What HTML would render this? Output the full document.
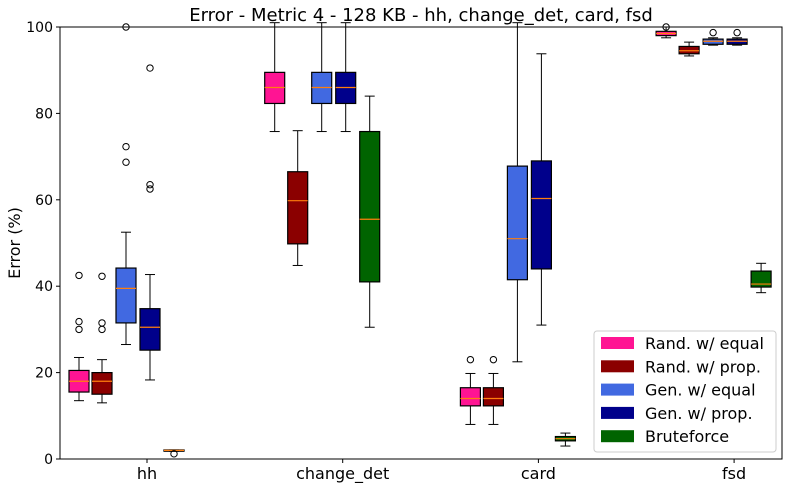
<!DOCTYPE html>
<html><head><meta charset="utf-8"><style>
body{margin:0;background:#fff;font-family:"DejaVu Sans","Liberation Sans",sans-serif}
svg text{font-family:"DejaVu Sans","Liberation Sans",sans-serif}
</style></head><body>
<svg id="chart" width="786" height="489" xmlns="http://www.w3.org/2000/svg">
<text x="421" y="21" font-size="18" text-anchor="middle">Error - Metric 4 - 128 KB - hh, change_det, card, fsd</text>
<text x="20" y="243" font-size="16" text-anchor="middle" transform="rotate(-90 20 243)">Error (%)</text>
<g id="axes"></g><g id="boxes"></g>
<rect x="60" y="27" width="722" height="432" fill="none" stroke="#000" stroke-width="1"/>
<g id="legend"></g>
</svg>
<script>
const categories=["hh","change_det","card","fsd"];
const seriesNames=["Rand. w/ equal","Rand. w/ prop.","Gen. w/ equal","Gen. w/ prop.","Bruteforce"];
const seriesColors=["#ff1493","#8b0000","#4169e1","#00008b","#006400"];
const yTicks=[0,20,40,60,80,100];
// each stat: [whiskLo, q1, median, q3, whiskHi]
const randEqual=[[13.5,15.5,18,20.5,23.5],[75.8,82.3,86,89.5,101],[8,12.3,14,16.5,19.8],[97.5,98,98.5,99,100]];
const randProp=[[13,15,18,20,23],[44.8,49.8,59.8,66.5,76],[8,12.3,14,16.5,19.8],[93.3,93.8,94.5,95.5,96.5]];
const genEqual=[[26.5,31.5,39.5,44.2,52.5],[75.8,82.3,86,89.5,101],[22.5,41.5,51,67.8,101],[95.8,96,96.7,97.2,97.5]];
const genProp=[[18.3,25.2,30.5,34.8,42.7],[75.8,82.3,86,89.5,101],[31,44,60.3,69,93.8],[95.8,96,96.7,97.2,97.5]];
const brute=[[1.8,1.8,2,2.1,2.1],[30.5,41,55.5,75.8,84],[3,4.2,4.7,5.2,6],[38.5,39.8,40.5,43.5,45.3]];
const outRandEqual=[[30,31.8,42.5],[],[23],[100]];
const outRandProp=[[30,31.5,42.3],[],[23],[]];
const outGenEqual=[[68.7,72.3,100],[],[],[98.7]];
const outGenProp=[[62.5,63.5,90.5],[],[],[98.7]];
const outBrute=[[1.2],[],[],[]];
const allStats=[randEqual,randProp,genEqual,genProp,brute];
const allOut=[outRandEqual,outRandProp,outGenEqual,outGenProp,outBrute];
const NS="http://www.w3.org/2000/svg";
const X0=60,X1=782,Y0=459,Y1=27;
const yS=v=>Y0-(v/100)*(Y0-Y1);
const xCat=i=>147+i*195.7;
const offs=[-68,-45,-21,3,27];
function mk(t,a,p){const e=document.createElementNS(NS,t);for(const k in a)e.setAttribute(k,a[k]);p.appendChild(e);return e;}
const ax=document.getElementById('axes'),bx=document.getElementById('boxes'),lg=document.getElementById('legend');
yTicks.forEach(v=>{
 const l=mk('line',{x1:X0-4,x2:X0,y1:yS(v),y2:yS(v),stroke:'#000'},ax);
 
 
 const t=mk('text',{x:X0-7,y:yS(v)+5,'font-size':14,'text-anchor':'end'},ax);t.textContent=v;
 
 
});
categories.forEach((c,i)=>{
 const l=mk('line',{x1:xCat(i),x2:xCat(i),y1:Y0,y2:Y0+4,stroke:'#000'},ax);
 
 
 const t=mk('text',{x:xCat(i),y:Y0+20,'font-size':16,'text-anchor':'middle'},ax);t.textContent=c;
 
 
});
const cp=mk('clipPath',{id:'clip'},bx);mk('rect',{x:X0,y:Y1-8,width:X1-X0,height:Y0-Y1+8},cp);
const g=mk('g',{'clip-path':'url(#clip)'},bx);
allStats.forEach((ser,s)=>{
 ser.forEach((st,i)=>{
  const cx=xCat(i)+offs[s],w=20;
  const gg=mk('g',{},g);
  
  
  mk('line',{x1:cx,x2:cx,y1:yS(st[0]),y2:yS(st[1]),stroke:'#000'},gg);
  mk('line',{x1:cx,x2:cx,y1:yS(st[3]),y2:yS(st[4]),stroke:'#000'},gg);
  mk('line',{x1:cx-5,x2:cx+5,y1:yS(st[0]),y2:yS(st[0]),stroke:'#000'},gg);
  mk('line',{x1:cx-5,x2:cx+5,y1:yS(st[4]),y2:yS(st[4]),stroke:'#000'},gg);
  mk('rect',{x:cx-w/2,y:yS(st[3]),width:w,height:Math.max(1,yS(st[1])-yS(st[3])),fill:seriesColors[s],stroke:'#000','stroke-width':1.2},gg);
  mk('line',{x1:cx-w/2,x2:cx+w/2,y1:yS(st[2]),y2:yS(st[2]),stroke:'#ff7f0e','stroke-width':1.2},gg);
  allOut[s][i].forEach(v=>{
   const o=mk('circle',{cx:cx,cy:yS(v),r:3.2,fill:'none',stroke:'#000'},g);
   
   
  });
 });
});
mk('rect',{x:594,y:331,width:182,height:121,rx:3,fill:'#fff','fill-opacity':0.8,stroke:'#ccc'},lg);
seriesNames.forEach((n,s)=>{
 const y=343+s*23.3;
 const r=mk('rect',{x:601,y:y-6,width:33,height:12,fill:seriesColors[s]},lg);
 
 
 const t=mk('text',{x:645,y:y+6,'font-size':16},lg);t.textContent=n;
 
 
});
</script>
</body></html>
